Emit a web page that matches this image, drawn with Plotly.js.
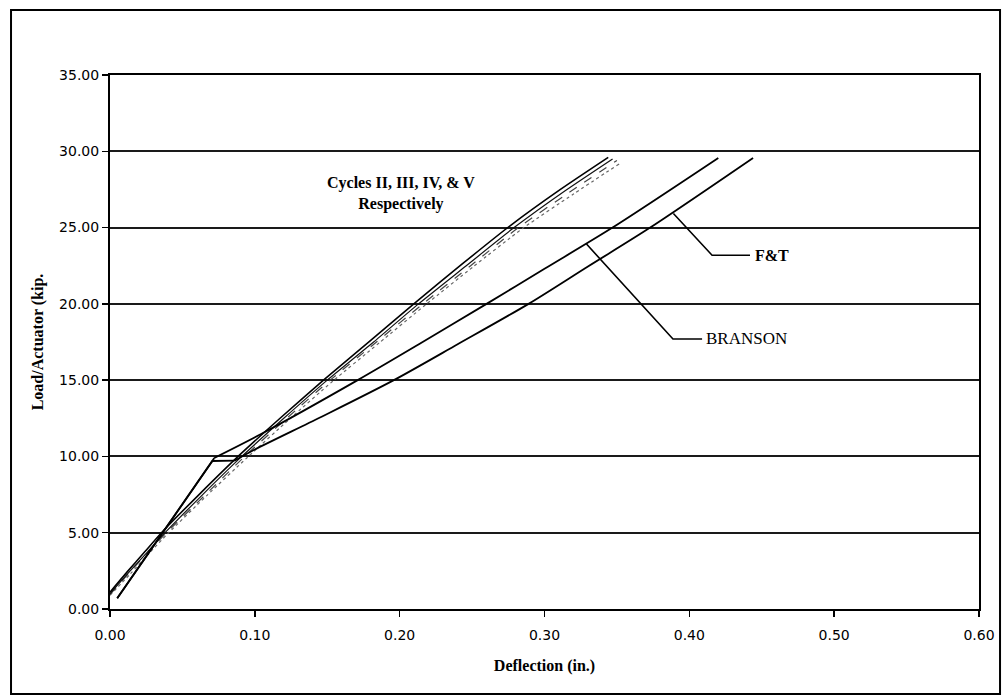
<!DOCTYPE html>
<html><head><meta charset="utf-8">
<script src="https://cdn.plot.ly/plotly-3.0.1.min.js"></script>
<style>html,body{margin:0;padding:0;background:#fff}#chart{width:1002px;height:698px}</style>
</head><body><div id="chart"></div>
<script>
// ---- data ----
const xTickVals = [0, 0.1, 0.2, 0.3, 0.4, 0.5, 0.6];
const xTickText = ["0.00", "0.10", "0.20", "0.30", "0.40", "0.50", "0.60"];
const yTickVals = [0, 5, 10, 15, 20, 25, 30, 35];
const yTickText = ["0.00", "5.00", "10.00", "15.00", "20.00", "25.00", "30.00", "35.00"];

const cycleII_x  = [0.000, 0.012, 0.024, 0.036, 0.062, 0.089, 0.118, 0.148, 0.180, 0.211, 0.243, 0.276, 0.311, 0.344];
const cycleII_y  = [1.10, 2.45, 3.75, 5.05, 7.55, 10.05, 12.55, 15.05, 17.60, 20.10, 22.60, 25.10, 27.50, 29.60];
const cycleIII_x = [0.000, 0.013, 0.026, 0.038, 0.064, 0.091, 0.120, 0.150, 0.182, 0.213, 0.246, 0.279, 0.314, 0.347];
const cycleIII_y = [1.00, 2.40, 3.75, 5.00, 7.50, 10.00, 12.50, 15.00, 17.50, 20.00, 22.50, 25.00, 27.40, 29.50];
const cycleIV_x  = [0.000, 0.013, 0.026, 0.039, 0.066, 0.093, 0.122, 0.152, 0.184, 0.216, 0.249, 0.282, 0.317, 0.350];
const cycleIV_y  = [0.95, 2.35, 3.70, 5.00, 7.50, 10.00, 12.50, 15.00, 17.50, 20.00, 22.50, 25.00, 27.30, 29.40];
const cycleV_x   = [0.000, 0.014, 0.027, 0.040, 0.067, 0.095, 0.124, 0.154, 0.186, 0.218, 0.251, 0.285, 0.320, 0.352];
const cycleV_y   = [0.90, 2.30, 3.65, 4.95, 7.45, 9.95, 12.45, 14.95, 17.45, 19.95, 22.45, 24.95, 27.20, 29.20];

// analytical curves: straight uncracked part, then curved cracked part
const bransonUncracked_x = [0.005, 0.072];
const bransonUncracked_y = [0.70, 9.90];
const bransonCracked_x = [0.072, 0.104, 0.171, 0.215, 0.260, 0.300, 0.347, 0.420];
const bransonCracked_y = [9.90, 11.45, 15.00, 17.45, 20.00, 22.30, 25.00, 29.56];
const ftUncracked_x = [0.005, 0.0707, 0.086];
const ftUncracked_y = [0.70, 9.70, 9.72];
const ftCracked_x = [0.086, 0.100, 0.145, 0.195, 0.240, 0.289, 0.330, 0.373, 0.444];
const ftCracked_y = [9.72, 10.45, 12.55, 14.95, 17.35, 20.00, 22.45, 25.00, 29.56];

// leader lines for the labels
const ftLeader_x = [0.389, 0.4157, 0.4419];
const ftLeader_y = [25.92, 23.19, 23.19];
const bransonLeader_x = [0.329, 0.3887, 0.4088];
const bransonLeader_y = [23.92, 17.70, 17.70];

const serif = '"Liberation Serif", "DejaVu Serif", serif';
const sans = '"DejaVu Sans", "Liberation Sans", sans-serif';

function pathFrom(xs, ys) {
  return xs.map((x, i) => (i === 0 ? 'M ' : 'L ') + x + ',' + ys[i]).join(' ');
}

const anaLine = {color: '#000', width: 1.8};
const anaCurve = {color: '#000', width: 1.8, shape: 'spline', smoothing: 0.8};

const traces = [
  {x: cycleV_x, y: cycleV_y, mode: 'lines', name: 'Cycle V', line: {color: '#666', width: 1.2, dash: 'dot', shape: 'spline', smoothing: 0.6}},
  {x: cycleIV_x, y: cycleIV_y, mode: 'lines', name: 'Cycle IV', line: {color: '#444', width: 1.2, dash: 'dash', shape: 'spline', smoothing: 0.6}},
  {x: cycleIII_x, y: cycleIII_y, mode: 'lines', name: 'Cycle III', line: {color: '#111', width: 1.2, shape: 'spline', smoothing: 0.6}},
  {x: cycleII_x, y: cycleII_y, mode: 'lines', name: 'Cycle II', line: {color: '#000', width: 1.6, shape: 'spline', smoothing: 0.6}},
  {x: bransonUncracked_x, y: bransonUncracked_y, mode: 'lines', name: 'BRANSON', line: anaLine},
  {x: bransonCracked_x, y: bransonCracked_y, mode: 'lines', name: 'BRANSON', line: anaCurve},
  {x: ftUncracked_x, y: ftUncracked_y, mode: 'lines', name: 'F&T', line: anaLine},
  {x: ftCracked_x, y: ftCracked_y, mode: 'lines', name: 'F&T', line: anaCurve}
];

const layout = {
  width: 1002, height: 698,
  margin: {l: 110, r: 23, t: 75, b: 89},
  paper_bgcolor: '#fff', plot_bgcolor: '#fff',
  showlegend: false,
  xaxis: {
    range: [0, 0.6], tickvals: xTickVals, ticktext: xTickText,
    ticks: 'outside', ticklen: 6, tickwidth: 1.5, tickcolor: '#000',
    showline: true, linecolor: '#000', linewidth: 2, mirror: true,
    showgrid: false, zeroline: false,
    tickfont: {family: sans, size: 14, color: '#000'},
    ticklabelstandoff: 6,
    title: {text: '<b>Deflection (in.)</b>', font: {family: serif, size: 16, color: '#000'}, standoff: 18}
  },
  yaxis: {
    range: [0, 35], tickvals: yTickVals, ticktext: yTickText,
    ticks: 'outside', ticklen: 6, tickwidth: 1.5, tickcolor: '#000',
    showline: true, linecolor: '#000', linewidth: 2, mirror: true,
    showgrid: true, gridcolor: '#1a1a1a', gridwidth: 2, zeroline: false,
    tickfont: {family: sans, size: 14, color: '#000'},
    title: {text: '<b>Load/Actuator (kip.</b>', font: {family: serif, size: 16, color: '#000'}, standoff: 12}
  },
  annotations: [
    {x: 0.201, y: 27.25, xref: 'x', yref: 'y', text: '<b>Cycles II, III, IV, &amp; V<br>Respectively</b>',
     showarrow: false, font: {family: serif, size: 16, color: '#000'}, align: 'center', xanchor: 'center', yanchor: 'middle'},
    {x: ftLeader_x[2] + 0.002, y: ftLeader_y[2], xref: 'x', yref: 'y', text: '<b>F&amp;T</b>',
     showarrow: false, font: {family: serif, size: 16, color: '#000'}, xanchor: 'left', yanchor: 'middle'},
    {x: bransonLeader_x[2] + 0.001, y: bransonLeader_y[2], xref: 'x', yref: 'y', text: 'BRANSON',
     showarrow: false, font: {family: serif, size: 17, color: '#000'}, xanchor: 'left', yanchor: 'middle'}
  ],
  shapes: [
    {type: 'path', xref: 'x', yref: 'y', path: pathFrom(ftLeader_x, ftLeader_y), line: {color: '#000', width: 1.6}},
    {type: 'path', xref: 'x', yref: 'y', path: pathFrom(bransonLeader_x, bransonLeader_y), line: {color: '#000', width: 1.6}},
    {type: 'rect', xref: 'paper', yref: 'paper', x0: -0.1139, x1: 1.0242, y0: -0.1592, y1: 1.1217,
     line: {color: '#000', width: 2}, fillcolor: 'rgba(0,0,0,0)'}
  ]
};

Plotly.newPlot('chart', traces, layout, {staticPlot: true, displayModeBar: false});
</script>
</body></html>
